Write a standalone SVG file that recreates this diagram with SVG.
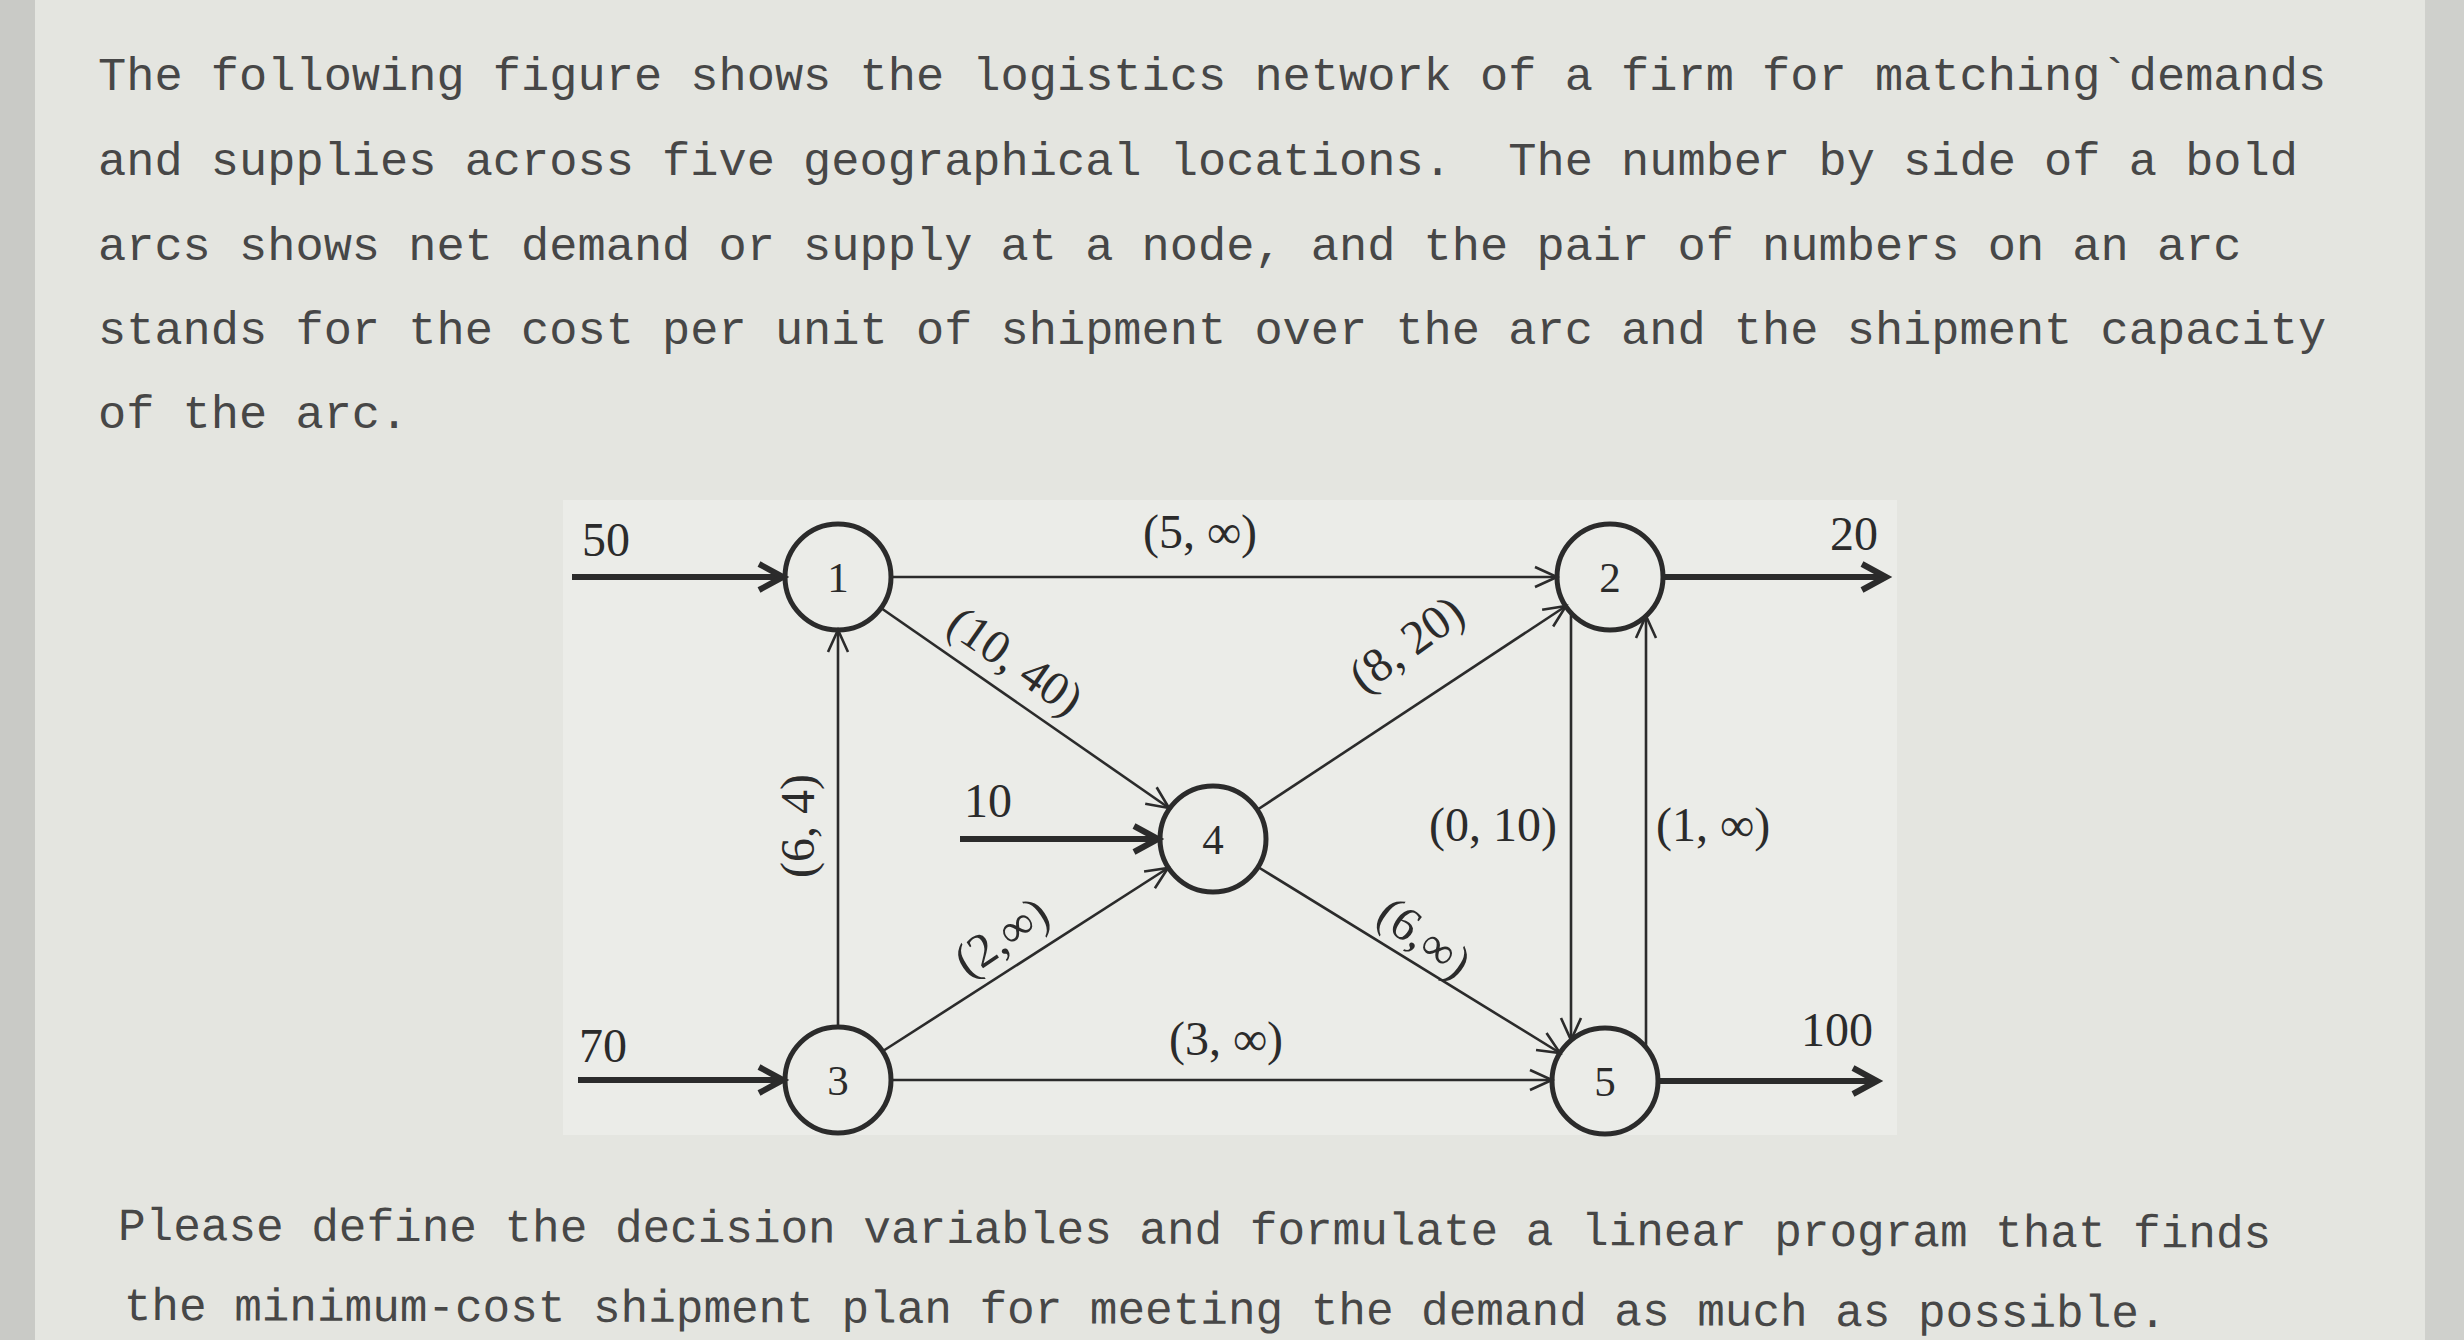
<svg xmlns="http://www.w3.org/2000/svg" width="2464" height="1340" viewBox="0 0 2464 1340">
<style>
.body{font-family:"Liberation Mono","DejaVu Sans Mono",monospace;font-size:47px;fill:#474747;white-space:pre}
.q{font-family:"Liberation Mono","DejaVu Sans Mono",monospace;font-size:46px;fill:#474747}
.lbl{font-family:"Liberation Serif","DejaVu Serif",serif;font-size:48px;fill:#2b2b2b}
.num{font-family:"Liberation Serif","DejaVu Serif",serif;font-size:48px;fill:#2b2b2b;text-anchor:middle}
.nd{font-family:"Liberation Serif","DejaVu Serif",serif;font-size:43px;fill:#2b2b2b;text-anchor:middle}
.node circle{fill:none;stroke:#2b2b2b;stroke-width:5}
.arc{stroke:#2b2b2b;stroke-width:2.6;fill:none;marker-end:url(#ah)}
.bold{stroke:#2b2b2b;stroke-width:6;fill:none;marker-end:url(#bh)}
</style>
<defs>
<marker id="ah" markerUnits="userSpaceOnUse" markerWidth="40" markerHeight="40" viewBox="-30 -20 40 40" refX="0" refY="0" orient="auto" overflow="visible">
<path d="M-22,-10 L0,0 L-22,10" fill="none" stroke="#2b2b2b" stroke-width="2.6"/>
</marker>
<marker id="bh" markerUnits="userSpaceOnUse" markerWidth="40" markerHeight="40" viewBox="-30 -20 40 40" refX="0" refY="0" orient="auto" overflow="visible">
<path d="M-24,-13 L0,0 L-24,13" fill="none" stroke="#2b2b2b" stroke-width="6"/>
</marker>
</defs>
<rect x="0" y="0" width="2464" height="1340" fill="#e4e5e0"/>
<rect x="0" y="0" width="35" height="1340" fill="#c9cac6"/>
<rect x="2425" y="0" width="39" height="1340" fill="#cfd0cc"/>
<rect x="563" y="500" width="1334" height="635" fill="#ebece8"/>

<g id="text-top">
<text class="body" x="98" y="90">The following figure shows the logistics network of a firm for matching`demands</text>
<text class="body" x="98" y="175" xml:space="preserve">and supplies across five geographical locations.  The number by side of a bold</text>
<text class="body" x="98" y="260">arcs shows net demand or supply at a node, and the pair of numbers on an arc</text>
<text class="body" x="98" y="344">stands for the cost per unit of shipment over the arc and the shipment capacity</text>
<text class="body" x="98" y="428">of the arc.</text>
</g>

<g id="connectors">
<line class="bold" x1="572" y1="577" x2="783" y2="577"/>
<line class="bold" x1="578" y1="1080" x2="783" y2="1080"/>
<line class="bold" x1="960" y1="839" x2="1158" y2="839"/>
<line class="bold" x1="1665" y1="577" x2="1886" y2="577"/>
<line class="bold" x1="1660" y1="1081" x2="1877" y2="1081"/>
<line class="arc" x1="891" y1="577" x2="1557" y2="577"/>
<line class="arc" x1="881" y1="608" x2="1169" y2="808"/>
<line class="arc" x1="883" y1="1051" x2="1168" y2="868"/>
<line class="arc" x1="1257" y1="810" x2="1566" y2="606"/>
<line class="arc" x1="1258" y1="867" x2="1560" y2="1053"/>
<line class="arc" x1="891" y1="1080" x2="1552" y2="1080"/>
<line class="arc" x1="838" y1="1027" x2="838" y2="630"/>
<line class="arc" x1="1571" y1="613" x2="1571" y2="1040"/>
<line class="arc" x1="1646" y1="1047" x2="1646" y2="616"/>
<text class="num" x="606" y="556">50</text>
<text class="num" x="603" y="1062">70</text>
<text class="num" x="988" y="817">10</text>
<text class="num" x="1854" y="550">20</text>
<text class="num" x="1837" y="1046">100</text>
<text class="lbl" x="1200" y="548" text-anchor="middle">(5, ∞)</text>
<text class="lbl" x="1226" y="1055" text-anchor="middle">(3, ∞)</text>
<text class="lbl" x="1557" y="841" text-anchor="end">(0, 10)</text>
<text class="lbl" x="1656" y="841">(1, ∞)</text>
<text class="lbl" text-anchor="middle" dy="0.35em" transform="translate(1016,660) rotate(35)">(10, 40)</text>
<text class="lbl" text-anchor="middle" dy="0.35em" transform="translate(1406,643) rotate(-36)">(8, 20)</text>
<text class="lbl" text-anchor="middle" dy="0.35em" transform="translate(1001,936) rotate(-34)">(2,∞)</text>
<text class="lbl" text-anchor="middle" dy="0.35em" transform="translate(1425,937) rotate(37)">(6,∞)</text>
<text class="lbl" text-anchor="middle" dy="0.35em" transform="translate(797,826) rotate(-90)">(6, 4)</text>
</g>

<g id="node1" class="node"><circle cx="838" cy="577" r="53"/><text class="nd" x="838" y="592">1</text></g>
<g id="node2" class="node"><circle cx="1610" cy="577" r="53"/><text class="nd" x="1610" y="592">2</text></g>
<g id="node3" class="node"><circle cx="838" cy="1080" r="53"/><text class="nd" x="838" y="1095">3</text></g>
<g id="node4" class="node"><circle cx="1213" cy="839" r="53"/><text class="nd" x="1213" y="854">4</text></g>
<g id="node5" class="node"><circle cx="1605" cy="1081" r="53"/><text class="nd" x="1605" y="1096">5</text></g>

<g id="text-bottom" transform="rotate(0.2 118 1240)">
<text class="q" x="118" y="1240">Please define the decision variables and formulate a linear program that finds</text>
<text class="q" x="124" y="1320">the minimum-cost shipment plan for meeting the demand as much as possible.</text>
</g>
</svg>
